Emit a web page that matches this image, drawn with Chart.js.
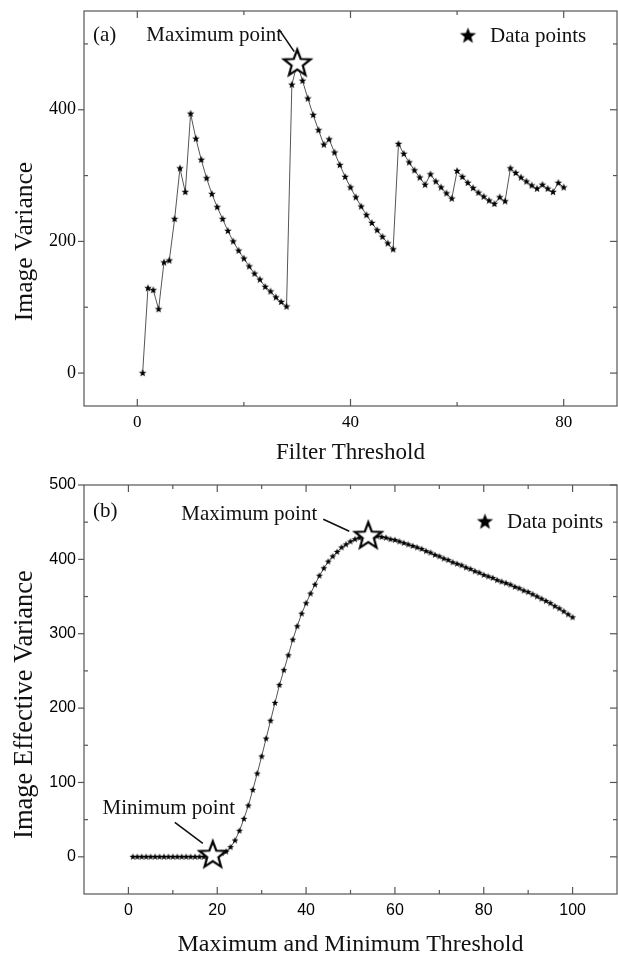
<!DOCTYPE html>
<html>
<head>
<meta charset="utf-8">
<script src="https://cdn.jsdelivr.net/npm/chart.js@4.4.0/dist/chart.umd.min.js"></script>
<style>
  html, body { margin: 0; padding: 0; background: #fff; }
  #wrapA { position: absolute; left: 0; top: 0; width: 618px; height: 466px; }
  #wrapB { position: absolute; left: 0; top: 466px; width: 618px; height: 488px; }
</style>
</head>
<body>
<div id="wrapA"><canvas id="chartA" width="618" height="466"></canvas></div>
<div id="wrapB"><canvas id="chartB" width="618" height="488"></canvas></div>
<script>
// ---- (a) Filter threshold vs image variance ----
const thresholdsA = [1, 2, 3, 4, 5, 6, 7, 8, 9, 10, 11, 12, 13, 14, 15, 16, 17, 18, 19, 20,
  21, 22, 23, 24, 25, 26, 27, 28, 29, 30, 31, 32, 33, 34, 35, 36, 37, 38, 39, 40,
  41, 42, 43, 44, 45, 46, 47, 48, 49, 50, 51, 52, 53, 54, 55, 56, 57, 58, 59, 60,
  61, 62, 63, 64, 65, 66, 67, 68, 69, 70, 71, 72, 73, 74, 75, 76, 77, 78, 79, 80];
const varianceA = [0, 129, 126, 97, 168, 171, 234, 311, 275, 394,
  356, 324, 296, 272, 252, 234, 216, 200, 186, 174,
  162, 151, 142, 131, 124, 115, 108, 101, 438, 470,
  444, 417, 392, 369, 347, 355, 335, 316, 298, 282,
  267, 253, 240, 228, 217, 207, 197, 188, 348, 333,
  320, 308, 297, 286, 302, 291, 282, 273, 265, 307,
  298, 289, 281, 274, 268, 262, 257, 267, 261, 311,
  304, 297, 291, 285, 280, 286, 280, 275, 289, 282];
const xMajorA = [0, 40, 80];
const xMinorA = [20, 60];
const yMajorA = [0, 200, 400];
const yMinorA = [100, 300, 500];

// ---- (b) Max/min threshold vs image effective variance ----
const thresholdsB = [1, 2, 3, 4, 5, 6, 7, 8, 9, 10, 11, 12, 13, 14, 15, 16, 17, 18, 19, 20,
  21, 22, 23, 24, 25, 26, 27, 28, 29, 30, 31, 32, 33, 34, 35, 36, 37, 38, 39, 40,
  41, 42, 43, 44, 45, 46, 47, 48, 49, 50, 51, 52, 53, 54, 55, 56, 57, 58, 59, 60,
  61, 62, 63, 64, 65, 66, 67, 68, 69, 70, 71, 72, 73, 74, 75, 76, 77, 78, 79, 80,
  81, 82, 83, 84, 85, 86, 87, 88, 89, 90, 91, 92, 93, 94, 95, 96, 97, 98, 99, 100];
const varianceB = [0, 0, 0, 0, 0, 0, 0, 0, 0, 0,
  0, 0, 0, 0, 0, 0, 0, 0, 2, 3,
  5, 7, 13, 22, 35, 51, 69, 90, 112, 135,
  159, 183, 207, 231, 251, 271, 292, 310, 327, 341,
  354, 366, 378, 388, 397, 404, 410, 416, 420, 424,
  427, 429, 430, 431, 431, 431, 430, 429, 427, 426,
  424, 422, 420, 418, 416, 414, 411, 409, 406, 404,
  401, 399, 396, 394, 392, 389, 387, 384, 382, 379,
  377, 375, 372, 370, 368, 366, 363, 361, 358, 356,
  353, 350, 347, 344, 341, 337, 334, 330, 326, 322];
const minThresholdB = 19;
const xMajorB = [0, 20, 40, 60, 80, 100];
const xMinorB = [10, 30, 50, 70, 90];
const yMajorB = [0, 100, 200, 300, 400, 500];
const yMinorB = [50, 150, 250, 350, 450];

const SERIF = '"Liberation Serif", "Times New Roman", serif';
const SANS = '"Liberation Sans", Arial, sans-serif';

// filled / open five point star as a point style image
function starImage(r, fill, stroke, lw) {
  const pad = Math.ceil(lw || 0) + 1;
  const size = Math.ceil(2 * r + 2 * pad);
  const c = document.createElement('canvas');
  c.width = size;
  c.height = size;
  const g = c.getContext('2d');
  g.translate(size / 2, size / 2);
  g.beginPath();
  for (let i = 0; i < 10; i++) {
    const rad = i % 2 ? r * 0.42 : r;
    const ang = -Math.PI / 2 + i * Math.PI / 5;
    g.lineTo(rad * Math.cos(ang), rad * Math.sin(ang));
  }
  g.closePath();
  g.fillStyle = fill;
  g.fill();
  if (stroke) {
    g.lineWidth = lw;
    g.strokeStyle = stroke;
    g.stroke();
  }
  return c;
}

const starSmallA = starImage(4, '#000');
const starSmallB = starImage(3.6, '#000');
const starBig = starImage(14, '#fff', '#000', 2.2);
const starLegend = starImage(8.5, '#000');

const toPoints = (xs, ys) => xs.map((x, i) => ({ x: x, y: ys[i] }));

// box frame with inward ticks on all sides (left majors point out)
const framePlugin = {
  id: 'frame',
  afterDraw(chart, args, opts) {
    const { ctx, chartArea: a, scales: { x, y } } = chart;
    ctx.save();
    ctx.strokeStyle = '#555';
    ctx.lineWidth = 1.2;
    ctx.strokeRect(a.left, a.top, a.right - a.left, a.bottom - a.top);
    const seg = (x1, y1, x2, y2) => {
      ctx.beginPath();
      ctx.moveTo(x1, y1);
      ctx.lineTo(x2, y2);
      ctx.stroke();
    };
    opts.xMajor.forEach(v => {
      const p = x.getPixelForValue(v);
      seg(p, a.bottom, p, a.bottom - 7);
      seg(p, a.top, p, a.top + 7);
    });
    opts.xMinor.forEach(v => {
      const p = x.getPixelForValue(v);
      seg(p, a.bottom, p, a.bottom - 4);
      seg(p, a.top, p, a.top + 4);
    });
    opts.yMajor.forEach(v => {
      const p = y.getPixelForValue(v);
      seg(a.left - 6, p, a.left, p);
      seg(a.right, p, a.right - 7, p);
    });
    opts.yMinor.forEach(v => {
      const p = y.getPixelForValue(v);
      seg(a.left, p, a.left + 4, p);
      seg(a.right, p, a.right - 4, p);
    });
    ctx.restore();
  }
};

function leader(ctx, x1, y1, x2, y2) {
  ctx.beginPath();
  ctx.moveTo(x1, y1);
  ctx.lineTo(x2, y2);
  ctx.stroke();
}

function legendItem(ctx, label, sx, sy) {
  ctx.drawImage(starLegend, sx - starLegend.width / 2, sy - starLegend.height / 2);
  ctx.textAlign = 'left';
  ctx.fillText(label, sx + 22, sy);
}

function yTitle(ctx, text, bx, cy) {
  ctx.save();
  ctx.translate(bx, cy);
  ctx.rotate(-Math.PI / 2);
  ctx.textAlign = 'center';
  ctx.textBaseline = 'alphabetic';
  ctx.fillText(text, 0, 0);
  ctx.restore();
}

const iMaxA = varianceA.indexOf(Math.max(...varianceA));
const iMaxB = varianceB.indexOf(Math.max(...varianceB));
const iMinB = thresholdsB.indexOf(minThresholdB);

const notesA = {
  id: 'notesA',
  afterDraw(chart) {
    const { ctx, chartArea: a, scales: { x, y } } = chart;
    const sx = x.getPixelForValue(thresholdsA[iMaxA]);
    const sy = y.getPixelForValue(varianceA[iMaxA]);
    ctx.save();
    ctx.fillStyle = '#111';
    ctx.strokeStyle = '#111';
    ctx.lineWidth = 1.6;
    ctx.font = '21px ' + SERIF;
    ctx.textBaseline = 'middle';
    ctx.textAlign = 'left';
    ctx.fillText('(a)', a.left + 9, a.top + 24);
    ctx.textAlign = 'right';
    ctx.fillText('Maximum point', sx - 15, sy - 28);
    leader(ctx, sx - 18, sy - 34, sx - 3, sy - 12);
    legendItem(ctx, chart.data.datasets[1].label, a.right - 149, a.top + 25);
    ctx.font = '23px ' + SERIF;
    ctx.textAlign = 'center';
    ctx.textBaseline = 'alphabetic';
    ctx.fillText('Filter Threshold', (a.left + a.right) / 2, a.bottom + 53);
    ctx.font = '25.5px ' + SERIF;
    yTitle(ctx, 'Image Variance', 32, (a.top + a.bottom) / 2 + 33);
    ctx.restore();
  }
};

const notesB = {
  id: 'notesB',
  afterDraw(chart) {
    const { ctx, chartArea: a, scales: { x, y } } = chart;
    const mx = x.getPixelForValue(thresholdsB[iMaxB]);
    const my = y.getPixelForValue(varianceB[iMaxB]);
    const nx = x.getPixelForValue(thresholdsB[iMinB]);
    const ny = y.getPixelForValue(varianceB[iMinB]);
    ctx.save();
    ctx.fillStyle = '#111';
    ctx.strokeStyle = '#111';
    ctx.lineWidth = 1.6;
    ctx.font = '21px ' + SERIF;
    ctx.textBaseline = 'middle';
    ctx.textAlign = 'left';
    ctx.fillText('(b)', a.left + 9, a.top + 26);
    ctx.textAlign = 'right';
    ctx.fillText('Maximum point', mx - 51, my - 22);
    leader(ctx, mx - 45, my - 17, mx - 19, my - 5);
    ctx.textAlign = 'center';
    ctx.fillText('Minimum point', nx - 44, ny - 47);
    leader(ctx, nx - 38, ny - 33, nx - 10, ny - 12);
    legendItem(ctx, chart.data.datasets[2].label, a.right - 132, a.top + 37);
    ctx.font = '24px ' + SERIF;
    ctx.textAlign = 'center';
    ctx.textBaseline = 'alphabetic';
    ctx.fillText('Maximum and Minimum Threshold', (a.left + a.right) / 2, a.bottom + 57);
    ctx.font = '26.5px ' + SERIF;
    yTitle(ctx, 'Image Effective Variance', 32, (a.top + a.bottom) / 2 + 15);
    ctx.restore();
  }
};

function axis(min, max, majors, font, padding, fitSize, horizontal) {
  return {
    type: 'linear',
    min: min,
    max: max,
    afterBuildTicks: s => { s.ticks = majors.map(v => ({ value: v })); },
    afterFit: s => {
      if (horizontal) s.height = fitSize; else s.width = fitSize;
      // no extra room for edge labels, the layout padding sets the plot box
      s.paddingTop = 0;
      s.paddingBottom = 0;
      s.paddingLeft = 0;
      s.paddingRight = 0;
    },
    grid: { display: false, drawTicks: false },
    border: { display: false },
    ticks: { font: font, color: '#000', padding: padding, maxRotation: 0, autoSkip: false }
  };
}

new Chart(document.getElementById('chartA'), {
  type: 'line',
  data: {
    datasets: [
      {
        label: 'Maximum point',
        data: [{ x: thresholdsA[iMaxA], y: varianceA[iMaxA] }],
        showLine: false,
        pointStyle: starBig,
        pointRadius: 14,
        order: 0
      },
      {
        label: 'Data points',
        data: toPoints(thresholdsA, varianceA),
        borderColor: '#555',
        borderWidth: 1,
        pointStyle: starSmallA,
        pointRadius: 4,
        tension: 0,
        order: 1
      }
    ]
  },
  options: {
    responsive: false,
    animation: false,
    events: [],
    layout: { autoPadding: false, padding: { top: 11, right: 1, left: 0, bottom: 0 } },
    plugins: {
      legend: { display: false },
      tooltip: { enabled: false },
      frame: { xMajor: xMajorA, xMinor: xMinorA, yMajor: yMajorA, yMinor: yMinorA }
    },
    scales: {
      x: axis(-10, 90, xMajorA, { family: SERIF, size: 17 }, 6, 60, true),
      y: axis(-50, 550, yMajorA, { family: SERIF, size: 18 }, 8, 84, false)
    }
  },
  plugins: [framePlugin, notesA]
});

new Chart(document.getElementById('chartB'), {
  type: 'line',
  data: {
    datasets: [
      {
        label: 'Maximum point',
        data: [{ x: thresholdsB[iMaxB], y: varianceB[iMaxB] }],
        showLine: false,
        pointStyle: starBig,
        pointRadius: 14,
        order: 0
      },
      {
        label: 'Minimum point',
        data: [{ x: thresholdsB[iMinB], y: varianceB[iMinB] }],
        showLine: false,
        pointStyle: starBig,
        pointRadius: 14,
        order: 0
      },
      {
        label: 'Data points',
        data: toPoints(thresholdsB, varianceB),
        borderColor: '#555',
        borderWidth: 1,
        pointStyle: starSmallB,
        pointRadius: 4,
        tension: 0,
        order: 1
      }
    ]
  },
  options: {
    responsive: false,
    animation: false,
    events: [],
    layout: { autoPadding: false, padding: { top: 19, right: 1, left: 0, bottom: 0 } },
    plugins: {
      legend: { display: false },
      tooltip: { enabled: false },
      frame: { xMajor: xMajorB, xMinor: xMinorB, yMajor: yMajorB, yMinor: yMinorB }
    },
    scales: {
      x: axis(-10, 110, xMajorB, { family: SANS, size: 16 }, 7, 60, true),
      y: axis(-50, 500, yMajorB, { family: SANS, size: 16 }, 8, 84, false)
    }
  },
  plugins: [framePlugin, notesB]
});
</script>
</body>
</html>
